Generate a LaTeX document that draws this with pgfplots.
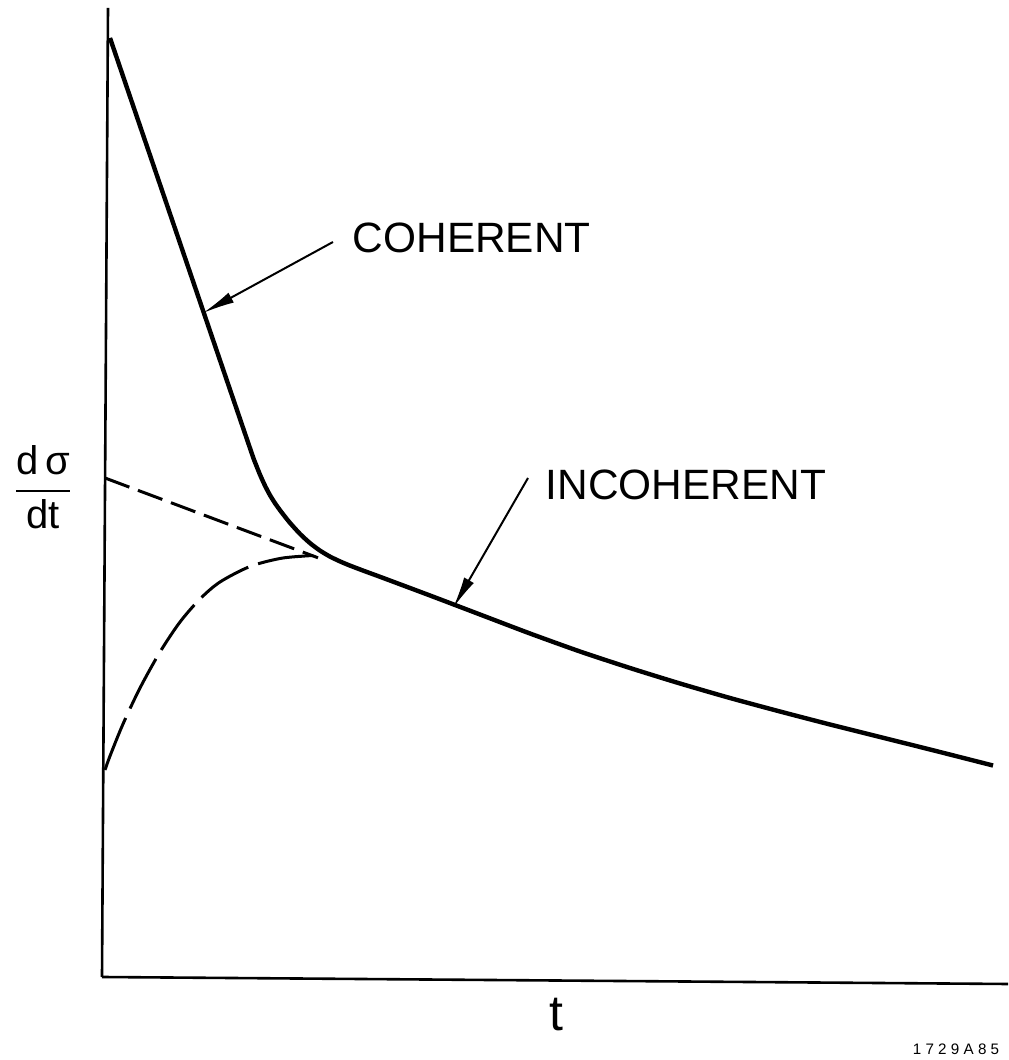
\documentclass[border=0pt]{standalone}
\usepackage{fontspec}
\setmainfont{Liberation Sans}
\usepackage{pgfplots}
\pgfplotsset{compat=1.18}
\usetikzlibrary{arrows.meta}

% Coherent + incoherent differential cross section (solid), t measured from the axis
\pgfplotstableread{
t    s
6    939
46   821.8
96   675.3
146  528.8
151  514.8
156  502.3
161  491.3
166  481.8
171  473.8
176  466.8
181  460.3
186  454.1
196  443.1
206  433.9
216  426.4
226  420.4
236  415.6
246  411.4
261  405.7
276  400.2
326  381.5
376  362.5
426  343.5
476  325.5
526  309
576  293.5
626  279
676  265.5
726  252.5
776  240
826  227.5
889  211.5
}\total

% Incoherent term extrapolated to t = 0 (short dashes)
\pgfplotstableread{
t    s
1    499
29   488.5
63   475.8
96   463.4
129  451.0
159  439.8
189  428.6
214  419.2
}\incfree

% Incoherent term with small-t suppression (long dashes)
\pgfplotstableread{
t    s
1    207
6    221
19   253
36   289
56   325
76   355
96   378
116  395
146  410.5
176  418.5
201  421
216  421.8
}\incsupp

\begin{document}
\begin{tikzpicture}
\begin{axis}[
  scale only axis,
  width=252pt, height=265pt,
  xmin=-104, xmax=904,
  ymin=-83, ymax=977,
  axis lines=none,
  clip=false,
]
% axes
\draw[line width=0.65pt] (axis cs:-2,0) -- (axis cs:4,969);
\draw[line width=0.65pt] (axis cs:-2,0) -- (axis cs:904,-7);

\addplot[black, line width=1.1pt, smooth, tension=0.4] table[x=t, y=s] {\total};
\addplot[black, line width=0.75pt, dash pattern=on 6.5pt off 2.3pt] table[x=t, y=s] {\incfree};
\addplot[black, line width=0.75pt, smooth, tension=0.5, dash pattern=on 14pt off 2.6pt] table[x=t, y=s] {\incsupp};

% labels and pointers
\draw[line width=0.5pt, -{Latex[length=8pt,width=2.8pt]}] (axis cs:229,735) -- (axis cs:99,664);
\node[anchor=base west, inner sep=0pt, font=\fontsize{10.6}{12}\selectfont] at (axis cs:248,724) {COHERENT};
\draw[line width=0.5pt, -{Latex[length=8pt,width=2.8pt]}] (axis cs:424,499) -- (axis cs:349,369);
\node[anchor=base west, inner sep=0pt, font=\fontsize{10.6}{12}\selectfont] at (axis cs:441,477) {INCOHERENT};

\node[inner sep=0pt, font=\fontsize{10}{12}\selectfont] at (axis cs:-61,490)
  {$\displaystyle\frac{\mbox{d\,σ}}{\mbox{dt}}$};
\node[inner sep=0pt, font=\fontsize{12.5}{14}\selectfont] at (axis cs:452,-38) {t};
\node[anchor=base west, inner sep=0pt, font=\fontsize{3.8}{5}\selectfont\addfontfeatures{LetterSpace=28}] at (axis cs:808,-77) {1729A85};

\coordinate (ll) at (axis cs:-104,-83);
\coordinate (ur) at (axis cs:904,977);
\end{axis}
\pgfresetboundingbox
\useasboundingbox (ll) rectangle (ur);
\end{tikzpicture}
\end{document}
